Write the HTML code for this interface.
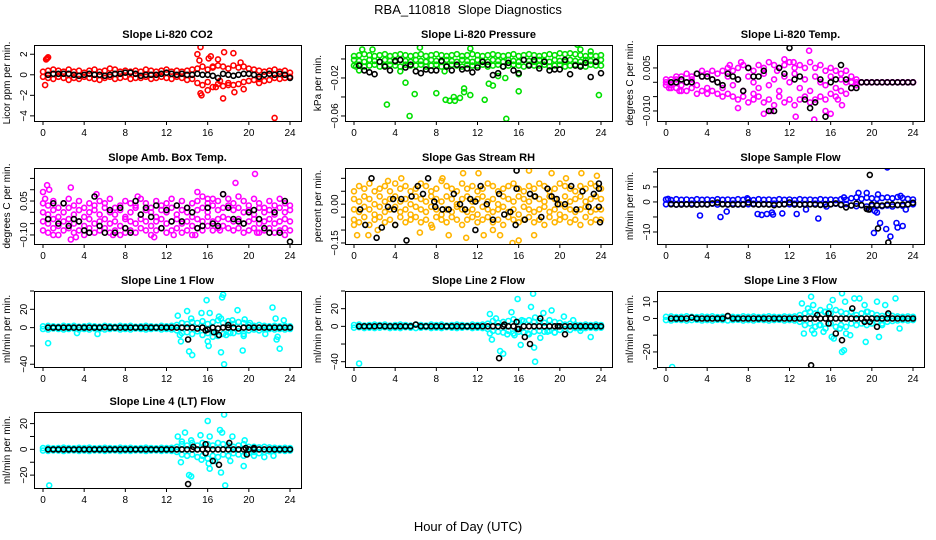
<!DOCTYPE html>
<html><head><meta charset="utf-8"><style>
html,body{margin:0;padding:0;background:#fff}
svg{display:block;font-family:"Liberation Sans",Arial,sans-serif}
</style></head><body>
<svg id="fig" width="936" height="540" viewBox="0 0 936 540">
<rect width="936" height="540" fill="#fff"/>
<text x="468" y="14" text-anchor="middle" font-size="13" style="white-space:pre">RBA_110818  Slope Diagnostics</text>
<text x="468" y="531" text-anchor="middle" font-size="13">Hour of Day (UTC)</text>
</svg>
<script>
// shared time grids (hours)
const H=[0,0.5,1,1.5,2,2.5,3,3.5,4,4.5,5,5.5,6,6.5,7,7.5,8,8.5,9,9.5,10,10.5,11,11.5,12,12.5,13,13.5,14,14.5,15,15.5,16,16.5,17,17.5,18,18.5,19,19.5,20,20.5,21,21.5,22,22.5,23,23.5,24];
const BH=[0.5,1,1.5,2,2.5,3,3.5,4,4.5,5,5.5,6,6.5,7,7.5,8,8.5,9,9.5,10,10.5,11,11.5,12,12.5,13,13.5,14,14.5,15,15.5,16,16.5,17,17.5,18,18.5,19,19.5,20,20.5,21,21.5,22,22.5,23,23.5,24];
const xTicks=[0,4,8,12,16,20,24];

// Panel 1 CO2
const co2A=[0.3,0.4,0.5,0.4,0.3,0.5,0.3,0.4,0.2,0.4,0.5,0.3,0.4,0.6,0.5,0.3,0.4,0.3,0.4,0.3,0.5,0.4,0.3,0.4,0.5,0.3,0.4,0.3,0.4,0.5,0.6,0.8,0.5,0.7,0.9,0.8,0.6,0.9,0.7,0.8,0.6,0.5,0.4,0.3,0.4,0.5,0.3,0.4,0.2];
const co2B=[-0.2,-0.3,-0.4,-0.2,-0.3,-0.5,-0.3,-0.4,-0.2,-0.3,-0.4,-0.5,-0.3,-0.2,-0.4,-0.3,-0.2,-0.4,-0.3,-0.3,-0.2,-0.4,-0.3,-0.2,-0.3,-0.4,-0.2,-0.3,-0.5,-0.4,-0.8,-1.0,-0.7,-1.2,-0.9,-1.1,-0.8,-1.0,-0.9,-0.7,-0.6,-0.5,-0.4,-0.6,-0.5,-0.3,-0.4,-0.3,-0.2];
const co2Out=[[0.2,-1],[0.3,1.5],[0.4,1.6],[0.5,1.7],[15,2],[15.2,1.4],[15.3,2.7],[15.4,-2],[15.3,-1.8],[16,-1.5],[16.1,1.6],[16.3,1.8],[16.8,-1.2],[17.5,-2.3],[17.6,2.2],[18.5,2.1],[18.6,-1.7],[19.5,-1.4],[19.2,1.2],[22.5,-4.2],[17,1.5],[18,-1.0],[21,-0.8],[16.5,0.8],[17.2,-0.6]];
const co2K=[0,0.1,0.1,0.1,0.1,0,-0.1,0,0.1,0,0,-0.1,0,0.1,0.1,0.2,0.2,0.1,-0.1,0,0,0,0.1,0.2,0.1,0,0.1,0,0,0.1,0,0,-0.1,-0.3,0.1,0,-0.1,0,0.1,0.1,0,-0.2,0,0.1,0,0.1,0,-0.3];

// Panel 2 Pressure
const prA=[0.003,0.004,0.005,0.004,0.003,0.004,0.005,0.003,0.004,0.005,0.004,0.003,0.004,0.005,0.003,0.004,0.005,0.004,0.003,0.004,0.005,0.003,0.004,0.005,0.004,0.003,0.004,0.005,0.004,0.003,0.004,0.005,0.003,0.004,0.005,0.004,0.003,0.004,0.005,0.004,0.006,0.005,0.006,0.005,0.004,0.003,0.004,0.003,0.004];
const prB=[-0.007,-0.006,-0.008,-0.007,-0.006,-0.008,-0.007,-0.006,-0.007,-0.008,-0.006,-0.007,-0.007,-0.006,-0.008,-0.007,-0.006,-0.008,-0.007,-0.006,-0.007,-0.008,-0.006,-0.007,-0.007,-0.006,-0.008,-0.007,-0.006,-0.008,-0.007,-0.006,-0.007,-0.008,-0.006,-0.007,-0.007,-0.006,-0.008,-0.007,-0.006,-0.008,-0.007,-0.006,-0.007,-0.008,-0.006,-0.007,-0.007];
const prC=[-0.001,-0.002,-0.003,-0.001,-0.002,-0.003,-0.001,-0.002,-0.003,-0.001,-0.002,-0.003,-0.001,-0.002,-0.003,-0.001,-0.002,-0.003,-0.001,-0.002,-0.003,-0.001,-0.002,-0.003,-0.001,-0.002,-0.003,-0.001,-0.002,-0.003,-0.001,-0.002,-0.003,-0.001,-0.002,-0.003,-0.001,-0.002,-0.003,-0.001,-0.002,-0.003,-0.001,-0.002,-0.003,-0.001,-0.002,-0.003,-0.001];
const prOut=[[0.2,-0.008],[0.5,-0.012],[0.8,0.010],[1.8,0.010],[3.2,-0.048],[4.5,-0.013],[5.0,-0.025],[5.4,-0.060],[5.9,-0.037],[6.4,0.012],[8.0,-0.036],[8.8,-0.013],[8.9,-0.043],[9.3,-0.044],[9.7,-0.040],[9.8,-0.044],[10.3,-0.041],[10.7,-0.031],[10.7,-0.035],[11.3,-0.038],[11.3,0.011],[12.7,-0.043],[13.1,-0.026],[13.5,-0.028],[14.0,-0.018],[14.7,-0.020],[14.8,-0.063],[16.0,-0.034],[16.0,-0.016],[21.2,0.018],[21.7,0.015],[23.8,-0.038],[22.0,0.010],[23.0,0.008]];
const prK=[-0.007,-0.012,-0.014,-0.016,-0.003,-0.008,-0.012,-0.002,-0.001,-0.009,-0.006,-0.013,-0.015,-0.011,-0.012,-0.012,-0.002,-0.008,-0.012,-0.006,-0.011,-0.010,-0.014,-0.009,-0.003,-0.006,-0.017,-0.015,-0.008,-0.004,-0.012,-0.015,-0.001,-0.007,-0.001,-0.010,-0.003,-0.012,-0.011,-0.011,-0.001,-0.016,-0.007,-0.008,-0.004,-0.019,-0.003,-0.015];

// Panel 3 Li-820 Temp
const tA=[0.001,0.001,0.002,0.002,0.003,0.002,0.003,0.004,0.003,0.004,0.003,0.004,0.005,0.004,0.005,0.006,0.005,0.004,0.006,0.005,0.007,0.006,0.005,0.006,0.007,0.005,0.006,0.005,0.007,0.005,0.006,0.004,0.005,0.004,0.003,0.004,0.002,0.001,0,0,0,0,0,0,0,0,0,0,0];
const tB=[-0.001,-0.002,-0.002,-0.003,-0.003,-0.002,-0.004,-0.003,-0.004,-0.003,-0.004,-0.005,-0.004,-0.005,-0.006,-0.005,-0.007,-0.006,-0.005,-0.007,-0.006,-0.008,-0.005,-0.007,-0.006,-0.008,-0.006,-0.005,-0.007,-0.006,-0.005,-0.006,-0.004,-0.005,-0.003,-0.004,-0.002,-0.001,0,0,0,0,0,0,0,0,0,0,0];
const tC=[0,-0.001,0.001,-0.001,0,0.001,-0.001,0.002,-0.002,0.001,0,-0.002,0.002,-0.001,0.001,-0.003,0.002,0,-0.002,0.003,-0.001,0.001,-0.003,0.002,0,0.003,-0.002,0.001,-0.003,0.002,0,-0.001,0.002,-0.002,0.001,0,0,0,0,0,0,0,0,0,0,0,0,0,0];
const tOut=[[6.2,0.006],[7.3,0.007],[11.5,0.008],[12.4,0.007],[13.9,0.011],[10.2,-0.010],[12.6,-0.012],[14.4,-0.013],[15.5,-0.010],[16.0,-0.011],[7.0,-0.009],[9.5,-0.011],[16.7,-0.006],[17.1,-0.008],[0.3,-0.002],[1.3,-0.003],[8.5,-0.004],[10.8,0.004]];
const tK=[0,0,0.001,0,0,0.003,0.002,0.002,0.001,0,-0.001,0.003,0.002,0.001,-0.003,0.005,0.002,0.002,0.004,-0.010,-0.010,0.005,0.003,0.012,0.001,0.002,-0.006,-0.009,-0.007,0.001,-0.012,0,0.001,0.006,0.001,-0.002,-0.002,0,0,0,0,0,0,0,0,0,0,0];

// Panel 4 Amb. Box Temp
const abA=[0.04,0.03,0.05,0.02,0.04,0.06,0.03,0.05,0.02,0.04,0.03,0.05,0.04,0.06,0.02,0.03,0.05,0.04,0.03,0.06,0.04,0.02,0.05,0.03,0.04,0.06,0.03,0.05,0.02,0.04,0.05,0.07,0.04,0.06,0.05,0.08,0.06,0.04,0.07,0.05,0.03,0.06,0.04,0.02,0.05,0.03,0.06,0.04,0.03];
const abB=[0.00,-0.01,0.01,-0.02,0.00,0.02,-0.01,0.01,-0.02,0.00,0.01,-0.01,0.02,0.00,-0.01,0.01,-0.02,0.00,0.02,-0.01,0.01,0.00,-0.02,0.01,0.00,0.02,-0.01,0.01,0.00,-0.02,0.01,0.02,0.00,0.03,0.01,0.02,0.03,0.01,0.02,0.00,0.01,-0.01,0.02,0.00,0.01,-0.01,0.02,0.00,0.01];
const abC=[-0.04,-0.05,-0.03,-0.06,-0.04,-0.03,-0.05,-0.04,-0.06,-0.03,-0.05,-0.04,-0.03,-0.05,-0.04,-0.06,-0.03,-0.04,-0.05,-0.03,-0.04,-0.06,-0.04,-0.03,-0.05,-0.04,-0.03,-0.05,-0.04,-0.06,-0.03,-0.04,-0.02,-0.04,-0.03,-0.02,-0.03,-0.04,-0.03,-0.05,-0.04,-0.03,-0.05,-0.04,-0.03,-0.05,-0.04,-0.03,-0.04];
const abD=[-0.08,-0.09,-0.07,-0.10,-0.08,-0.07,-0.09,-0.08,-0.10,-0.07,-0.09,-0.08,-0.07,-0.09,-0.08,-0.10,-0.07,-0.08,-0.09,-0.07,-0.08,-0.10,-0.08,-0.07,-0.09,-0.08,-0.07,-0.09,-0.08,-0.10,-0.07,-0.08,-0.06,-0.08,-0.07,-0.06,-0.07,-0.08,-0.07,-0.09,-0.08,-0.07,-0.09,-0.08,-0.07,-0.09,-0.08,-0.07,-0.08];
const abOut=[[0,0.09],[0.4,0.12],[0.6,0.1],[0.2,0.06],[2.7,0.11],[2.7,-0.12],[1,-0.10],[3.2,-0.11],[5.2,0.08],[6.8,-0.10],[9.2,0.07],[10.8,-0.11],[15,0.09],[16,0.06],[18.7,0.13],[20.6,0.17],[20.8,-0.09],[14.8,-0.10],[23.5,-0.10],[8,-0.09],[4.5,-0.09],[12.7,-0.10],[17.2,-0.08]];
const abK=[-0.03,0.04,-0.05,0.04,-0.06,-0.03,-0.04,-0.08,-0.09,0.07,-0.06,-0.09,0.01,-0.09,0.02,-0.07,-0.09,0.05,-0.01,0.02,-0.02,0.03,-0.07,0.01,-0.04,0.03,-0.04,0.02,0.00,-0.07,-0.06,0.02,-0.05,-0.06,0.08,0.02,-0.03,-0.04,-0.05,0.00,0.01,-0.03,-0.07,-0.09,0.00,-0.09,0.05,-0.13];

// Panel 5 Gas Stream RH
const rhA=[0.05,0.07,0.06,0.08,0.05,0.06,0.07,0.05,0.08,0.06,0.07,0.05,0.06,0.08,0.07,0.05,0.06,0.09,0.07,0.06,0.05,0.08,0.06,0.07,0.05,0.06,0.08,0.07,0.05,0.06,0.07,0.08,0.06,0.05,0.07,0.06,0.08,0.07,0.05,0.06,0.08,0.07,0.06,0.05,0.07,0.06,0.08,0.07,0.06];
const rhB=[0.02,0.01,0.03,0.02,0.00,0.03,0.01,0.02,0.03,0.01,0.02,0.00,0.03,0.02,0.01,0.03,0.02,0.01,0.03,0.02,0.00,0.02,0.03,0.01,0.02,0.03,0.01,0.02,0.00,0.03,0.02,0.01,0.03,0.02,0.01,0.03,0.02,0.01,0.03,0.02,0.00,0.03,0.01,0.02,0.03,0.01,0.02,0.03,0.02];
const rhC=[-0.02,-0.03,-0.01,-0.02,-0.04,-0.01,-0.03,-0.02,-0.01,-0.03,-0.02,-0.04,-0.01,-0.02,-0.03,-0.01,-0.02,-0.04,-0.02,-0.03,-0.01,-0.02,-0.03,-0.02,-0.04,-0.01,-0.02,-0.03,-0.02,-0.01,-0.03,-0.02,-0.04,-0.01,-0.02,-0.03,-0.02,-0.01,-0.03,-0.02,-0.04,-0.01,-0.02,-0.03,-0.02,-0.01,-0.03,-0.02,-0.02];
const rhD=[-0.06,-0.07,-0.05,-0.08,-0.06,-0.05,-0.07,-0.06,-0.08,-0.05,-0.07,-0.06,-0.05,-0.07,-0.06,-0.08,-0.05,-0.06,-0.07,-0.05,-0.06,-0.08,-0.06,-0.05,-0.07,-0.06,-0.05,-0.07,-0.06,-0.08,-0.05,-0.06,-0.07,-0.06,-0.05,-0.07,-0.06,-0.08,-0.05,-0.07,-0.06,-0.05,-0.07,-0.06,-0.08,-0.05,-0.07,-0.06,-0.06];
const rhOut=[[0,-0.08],[0.3,-0.12],[1.4,-0.12],[3.3,0.09],[6.4,-0.11],[7.6,-0.09],[9.2,-0.12],[10.6,0.12],[10.9,-0.13],[12.1,0.12],[12.6,-0.12],[14.2,-0.12],[15.4,-0.15],[16.0,-0.14],[17.0,0.13],[17.5,-0.12],[18.3,-0.17],[19.2,0.12],[22.1,0.12],[22.9,0.17],[23.2,-0.17],[23.6,0.11],[4.6,0.1],[8.6,0.1],[20.6,0.1],[2.3,-0.1],[13.5,-0.1]];
const rhKx=[0.6,1.1,1.7,2.2,2.7,3.3,3.8,3.9,4.0,4.6,5.1,5.6,6.2,6.7,7.2,7.8,7.9,8.6,9.2,9.7,10.3,10.8,11.3,11.8,11.8,11.8,12.3,12.9,13.5,14.1,14.6,15.2,15.7,15.8,15.8,16.6,17.1,17.6,18.2,18.8,19.2,19.7,19.8,20.5,21.1,21.6,22.2,22.8,23.3,23.8,23.8,23.8,23.9];
const rhKy=[-0.02,-0.08,0.10,-0.13,-0.09,-0.01,0.02,-0.02,-0.08,0.02,-0.14,0.03,0.07,0.04,0.10,0.01,-0.01,-0.02,-0.02,0.04,0.00,-0.02,0.02,-0.10,0.01,-0.17,0.07,0.00,-0.06,0.04,-0.04,-0.03,-0.08,0.06,0.13,-0.06,0.04,0.03,-0.05,0.06,0.03,0.02,0.00,0.00,0.07,-0.02,0.05,-0.01,0.04,0.08,0.06,-0.01,-0.07];

// Panel 6 Sample Flow
const sfA=[0.8,0.6,0.9,0.7,0.8,0.6,0.9,0.7,0.8,0.6,0.9,0.7,0.8,0.6,0.9,0.7,0.8,0.6,0.9,0.7,0.8,0.6,0.9,0.7,0.8,0.6,0.9,0.7,0.8,0.6,0.9,0.7,0.8,0.6,0.9,0.7,1.2,1.5,1.0,1.4,1.2,1.0,1.3,1.5,1.2,1.6,1.3,1.0,0.8];
const sfB=[-0.8,-0.6,-0.9,-0.7,-0.8,-0.6,-0.9,-0.7,-0.8,-0.6,-0.9,-0.7,-0.8,-0.6,-0.9,-0.7,-0.8,-0.6,-0.9,-0.7,-0.8,-0.6,-0.9,-0.7,-0.8,-0.6,-0.9,-0.7,-0.8,-0.6,-0.9,-0.7,-0.8,-0.6,-0.9,-0.7,-1.2,-1.4,-1.1,-1.5,-1.3,-1.0,-1.4,-1.2,-1.5,-1.1,-1.3,-0.9,-0.8];
const sfOut=[[0.2,1],[3.3,-4.5],[5.3,-5],[5.9,-3.2],[7.9,1.2],[8.9,-4],[9.3,-4.3],[9.8,-4],[10.3,-3.5],[10.4,-4.2],[11.3,-3.8],[12.7,-4],[13.6,-2.5],[14.8,-5.5],[15.6,-1.5],[17.3,1.5],[18.7,3],[19.5,3],[19.8,-2.5],[20.2,-10.3],[20.5,-3.5],[20.8,-7],[20.6,2.5],[21.4,-9],[21.5,11.5],[21.8,-11.5],[22.4,-7],[22.5,-8.5],[23.0,-8],[23.3,-2.5],[22.8,2],[20.3,-3]];
const sfK=[-0.8,-0.9,-0.9,-0.8,-0.9,-0.9,-0.8,-0.9,-0.5,-0.2,-0.8,-0.9,-0.9,-0.8,-0.9,-0.2,-0.8,-0.9,-0.8,-0.9,-1.1,-0.9,-0.8,-0.2,-0.9,-0.9,-0.9,-0.8,-0.9,-1.0,-0.9,-0.8,-0.5,-1.0,-1.8,-1.2,-0.6,-1.1,-2.3,-0.9,-1.2,-1.2,-0.9,-0.9,-1.0,-0.9,-0.8,-0.3];
const sfKx=[19.8,20.6,21.6,19.7];
const sfKy=[9,-8.8,-13.5,-2.5];

// Panels 7-10 Line flows
const l1A=[1.5,2,1.5,1,2,1.5,2,1,1.5,2,1.5,1,2,1.5,1,2,1.5,2,1,1.5,2,1.5,1,2,1.5,2,3,5,4,6,5,7,4,6,8,5,7,4,6,5,3,2,3,2,1.5,2,1.5,2,1.5];
const l1B=[-1.5,-2,-1,-1.5,-2,-1.5,-1,-2,-1.5,-2,-1,-1.5,-2,-1.5,-1,-2,-1.5,-2,-1,-1.5,-2,-1.5,-1,-2,-1.5,-2,-3,-6,-5,-7,-4,-8,-6,-5,-9,-7,-5,-6,-4,-7,-3,-2,-3,-2,-1.5,-2,-1.5,-2,-1.5];
const l1Out=[[0.5,-17],[3.3,-6],[5.3,-7],[13.1,13],[13.3,-8],[13.4,-15],[13.5,5],[14,18],[14.2,-26],[14.4,10],[14.5,-30],[15.4,16],[15.9,30],[16,-15],[16.1,-20],[16.2,16],[16.5,-10],[17.1,12],[17.3,10],[17.4,33],[17.5,36],[17.3,-27],[17.6,-40],[17.8,-8],[18.4,8],[18.9,19],[19.4,-25],[19.5,-9],[19.6,9],[21.6,-7],[22.3,22],[22.6,10],[22.8,-10],[23,-23],[23.4,8],[22.7,-13],[16.8,-5],[18.2,-6],[20.1,5]];
const l1K=[0,0,0,0,0,0,0,0,0,0,0,0.5,0,0,0,0,0,0,0,0,0,0,0,0,0,0,0,0,0,-1,0,-2,0,-1,0,0,0,-1,0,0,0,0,0,0,0,0,0,0];
const l1Kx=[14.1,16.6,17.1,18,15.8];
const l1Ky=[-13,-5,-8,3,-3];

const l2A=[1.5,2,1,1.5,2,1.5,2,1,1.5,2,1.5,1,2,1.5,1,2,1.5,2,1,1.5,2,1.5,1,2,1.5,2,3,6,4,5,6,8,5,6,7,5,6,4,7,5,4,2,3,2,1.5,2,1.5,2,1.5];
const l2B=[-1.5,-1,-2,-1.5,-2,-1.5,-1,-2,-1.5,-2,-1,-1.5,-2,-1.5,-1,-2,-1.5,-2,-1,-1.5,-2,-1.5,-1,-2,-1.5,-2,-3,-5,-6,-7,-5,-8,-6,-7,-9,-6,-5,-6,-5,-7,-4,-3,-4,-2,-2,-2,-1.5,-2,-1.5];
const l2Out=[[0.5,-42],[13.2,14],[13.4,-15],[13.2,-8],[14.2,-28],[14.5,-31],[15.3,16],[15.6,-10],[15.9,31],[16.2,-21],[16.3,7],[17.2,22],[17.4,37],[17.5,-24],[17.6,-40],[17.6,10],[18.4,15],[18.1,-13],[19.2,18],[20.4,11],[21.3,7],[23,-12],[22,-5],[19.5,-7],[14.9,-9],[13.8,9],[16.9,-8],[18.8,-6]];
const l2K=[0,0,0,0,0.5,0,0,0,0,0,0,2,0,0,0,0,0,0,0,0,0,0,0,0,0,0,0,0,0,0,0,-3,0,0,0,0,0,0,0,0,0,0,0,0,0,0,0,0];
const l2Kx=[14.1,14.6,15.8,16.6,17.1,18.1,20.5,19.8,15.9];
const l2Ky=[-36,2,5,-12,-20,9,-9,0,-3];

const l3A=[1,1.2,0.8,1,1.3,1,0.8,1.2,1,1.3,0.8,1,1.2,1,0.8,1.3,1,1.2,0.8,1,1.3,1,0.8,1.2,1,1.2,2,3,4,3,5,4,3,5,4,3,4,2,3,4,3,2,1.5,2,1.5,1.2,1,1.2,1];
const l3B=[-1,-1.2,-0.8,-1,-1.3,-1,-0.8,-1.2,-1,-1.3,-0.8,-1,-1.2,-1,-0.8,-1.3,-1,-1.2,-0.8,-1,-1.3,-1,-0.8,-1.2,-1,-1.2,-2,-4,-3,-5,-4,-6,-3,-5,-4,-5,-3,-4,-3,-4,-3,-2,-3,-2,-1.5,-1.2,-1,-1.2,-1];
const l3Out=[[0.6,-29],[13.2,9],[13.4,-9],[13.8,6],[14.1,13],[14.3,8],[14.2,-7],[14.4,-9],[14.9,-4],[15.3,-8],[15.4,4],[15.9,7],[16.1,-11],[16.3,-12],[16.2,11],[16.9,-6],[17.1,15],[17.1,-20],[17.3,-19],[17.4,10],[17.5,-9],[17.9,-10],[18.3,12],[18.8,12],[19.3,8],[19.4,-14],[19.6,4],[20.5,10],[20.7,-11],[21.3,8],[22.3,12],[22.7,-6],[21,-4]];
const l3K=[0,0,0,0,0.5,0,0,0,0,0,0,1.5,0,0,0,0,0,0,0,0,0,0,0,0,0,0,0,0,0,0,0,0,0,0,0,0,0,0,0,0,0,0,0,0,0,0,0,0];
const l3Kx=[14.1,14.7,15.8,15.8,16.5,17.1,18.1,19.3,19.8,20.5,21.6];
const l3Ky=[-28,2,-3,3,-9,-13,6,-2,-2,-5,3];

const l4A=[1,1.2,0.8,1,1.3,1,0.8,1.2,1,1.3,0.8,1,1.2,1,0.8,1.3,1,1.2,0.8,1,1.3,1,0.8,1.2,1,1.2,2,4,3,5,3,5,4,3,5,4,3,2,3,4,2,2,1.5,2,1.5,1.2,1,1.2,1];
const l4B=[-1,-1.2,-0.8,-1,-1.3,-1,-0.8,-1.2,-1,-1.3,-0.8,-1,-1.2,-1,-0.8,-1.3,-1,-1.2,-0.8,-1,-1.3,-1,-0.8,-1.2,-1,-1.2,-2,-4,-5,-4,-6,-5,-7,-5,-6,-4,-5,-3,-4,-5,-3,-2,-3,-2,-1.5,-1.2,-1,-1.2,-1];
const l4Out=[[0.6,-28],[13.1,10],[13.4,-10],[13.5,6],[13.8,13],[14.2,-20],[14.4,-21],[14.4,7],[15.3,11],[15.4,-8],[16,22],[16.1,-11],[16.2,-15],[16.2,10],[16.7,-9],[17.2,15],[17.3,-18],[17.4,13],[17.6,27],[17.7,-28],[18.4,10],[18.2,-9],[19.6,7],[19.5,-13],[20.5,-5],[21.5,-6],[22.4,-5]];
const l4K=[0,0,0,0,0,0,0,0,0,0,0,0,0,0,0,0,0,0,0,0,0,0,0,0,0,0,0,0,0,0,0,0,0,0,0,0,0,0,0,0,0,0,0,0,0,0,0,0];
const l4Kx=[14.1,14.6,15.8,15.8,16.5,17.1,18.1,19.8,19.7,20.5];
const l4Ky=[-27,2,-3,4,-9,-12,5,-4,1,1];

const NS='http://www.w3.org/2000/svg';
const svg=document.getElementById('fig');
const colL=[34,345,657], rowT=[45,168,291,412], PW=267, PH=76;
function mk(tag,attrs,parent){const e=document.createElementNS(NS,tag);for(const k in attrs)e.setAttribute(k,attrs[k]);parent.appendChild(e);return e;}

function panel(cfg){
  const L=colL[cfg.col], T=rowT[cfg.row];
  const g=mk('g',{},svg);
  
  
  const xs=h=>L+9+h*(247/24);
  const ys=v=>T+(cfg.ymax-v)/(cfg.ymax-cfg.ymin)*PH;
  const clip='clip-'+cfg.name;
  const cp=mk('clipPath',{id:clip},g);mk('rect',{x:L,y:T,width:PW,height:PH},cp);
  const pts=mk('g',{'clip-path':'url(#'+clip+')'},g);
  
  
  function dot(x,y,c,nm){
    const e=mk('circle',{cx:xs(x).toFixed(1),cy:ys(y).toFixed(1),r:2.5,fill:'none',stroke:c,'stroke-width':1.6},pts);
    
    
  }
  cfg.bands.forEach(arr=>{const n=Math.min(arr.length,H.length);for(let i=0;i<n;i++)dot(H[i],arr[i],cfg.color,'slope-point');});
  cfg.out.forEach(p=>dot(p[0],p[1],cfg.color,'slope-point'));
  if(cfg.bk){const n=Math.min(cfg.bk.length,BH.length);for(let i=0;i<n;i++)dot(BH[i],cfg.bk[i],'#000','mean-point');}
  if(cfg.bkx){for(let i=0;i<cfg.bkx.length;i++)dot(cfg.bkx[i],cfg.bky[i],'#000','mean-point');}
  const b=mk('rect',{x:L+0.5,y:T+0.5,width:PW,height:PH,fill:'none',stroke:'#000','stroke-width':1},g);
  
  
  xTicks.forEach(t=>{
    const x=xs(t);
    mk('line',{x1:x,x2:x,y1:T+PH,y2:T+PH+4,stroke:'#000'},g);
    const tx=mk('text',{x:x,y:T+PH+15,'text-anchor':'middle','font-size':10},g);
    tx.textContent=t;
    
    
  });
  cfg.yt.forEach((t,i)=>{
    const y=ys(t);
    mk('line',{x1:L-4,x2:L,y1:y,y2:y,stroke:'#000'},g);
    if(cfg.yl[i]){
      const tx=mk('text',{x:0,y:0,'text-anchor':'middle','font-size':10,transform:'translate('+(L-7)+','+y+') rotate(-90)'},g);
      tx.textContent=cfg.yl[i];
      
      
    }
  });
  const yt=mk('text',{x:0,y:0,'text-anchor':'middle','font-size':10,transform:'translate('+(L-24)+','+(T+PH/2)+') rotate(-90)'},g);
  yt.textContent=cfg.ylab;
  
  
  const tt=mk('text',{x:L+PW/2,y:T-7,'text-anchor':'middle','font-size':11,'font-weight':'bold'},g);
  tt.textContent=cfg.title;
  
  
}
const M='\u2212';
panel({name:'panel-co2',col:0,row:0,title:'Slope Li-820 CO2',ylab:'Licor ppm per min.',ymin:-4.5,ymax:2.9,yt:[-4,-2,0,2],yl:[M+'4',M+'2','0','2'],color:'#ff0000',bands:[co2A,co2B],out:co2Out,bk:co2K});
panel({name:'panel-pressure',col:1,row:0,title:'Slope Li-820 Pressure',ylab:'kPa per min.',ymin:-0.0653,ymax:0.0147,yt:[-0.06,-0.04,-0.02,0],yl:[M+'0.06','',M+'0.02',''],color:'#00e000',bands:[prA,prB,prC],out:prOut,bk:prK});
panel({name:'panel-li820-temp',col:2,row:0,title:'Slope Li-820 Temp.',ylab:'degrees C per min.',ymin:-0.0135,ymax:0.013,yt:[-0.010,-0.005,0,0.005],yl:[M+'0.010','','','0.005'],color:'#ff00ff',bands:[tA,tB,tC],out:tOut,bk:tK});
panel({name:'panel-amb-box-temp',col:0,row:1,title:'Slope Amb. Box Temp.',ylab:'degrees C per min.',ymin:-0.14,ymax:0.196,yt:[-0.10,-0.05,0,0.05,0.10,0.15],yl:[M+'0.10','','','0.05','',''],color:'#ff00ff',bands:[abA,abB,abC,abD],out:abOut,bk:abK});
panel({name:'panel-gas-rh',col:1,row:1,title:'Slope Gas Stream RH',ylab:'percent per min.',ymin:-0.154,ymax:0.14,yt:[-0.15,-0.10,-0.05,0,0.05,0.10],yl:[M+'0.15','','','0.00','',''],color:'#ffb400',bands:[rhA,rhB,rhC,rhD],out:rhOut,bkx:rhKx,bky:rhKy});
panel({name:'panel-sample-flow',col:2,row:1,title:'Slope Sample Flow',ylab:'ml/min per min.',ymin:-14,ymax:11.3,yt:[-10,-5,0,5,10],yl:[M+'10','','0','5',''],color:'#0000ff',bands:[sfA,sfB],out:sfOut,bk:sfK,bkx:sfKx,bky:sfKy});
panel({name:'panel-line1-flow',col:0,row:2,title:'Slope Line 1 Flow',ylab:'ml/min per min.',ymin:-43,ymax:40,yt:[-40,-20,0,20,40],yl:[M+'40','','0','20',''],color:'#00ffff',bands:[l1A,l1B],out:l1Out,bk:l1K,bkx:l1Kx,bky:l1Ky});
panel({name:'panel-line2-flow',col:1,row:2,title:'Slope Line 2 Flow',ylab:'ml/min per min.',ymin:-46,ymax:40,yt:[-40,-20,0,20,40],yl:[M+'40','','0','20',''],color:'#00ffff',bands:[l2A,l2B],out:l2Out,bk:l2K,bkx:l2Kx,bky:l2Ky});
panel({name:'panel-line3-flow',col:2,row:2,title:'Slope Line 3 Flow',ylab:'ml/min per min.',ymin:-29,ymax:16.4,yt:[-30,-20,-10,0,10],yl:['',M+'20','','0','10'],color:'#00ffff',bands:[l3A,l3B],out:l3Out,bk:l3K,bkx:l3Kx,bky:l3Ky});
panel({name:'panel-line4-flow',col:0,row:3,title:'Slope Line 4 (LT) Flow',ylab:'ml/min per min.',ymin:-30,ymax:29,yt:[-20,-10,0,10,20],yl:[M+'20','','0','','20'],color:'#00ffff',bands:[l4A,l4B],out:l4Out,bk:l4K,bkx:l4Kx,bky:l4Ky});
</script>
</body></html>
